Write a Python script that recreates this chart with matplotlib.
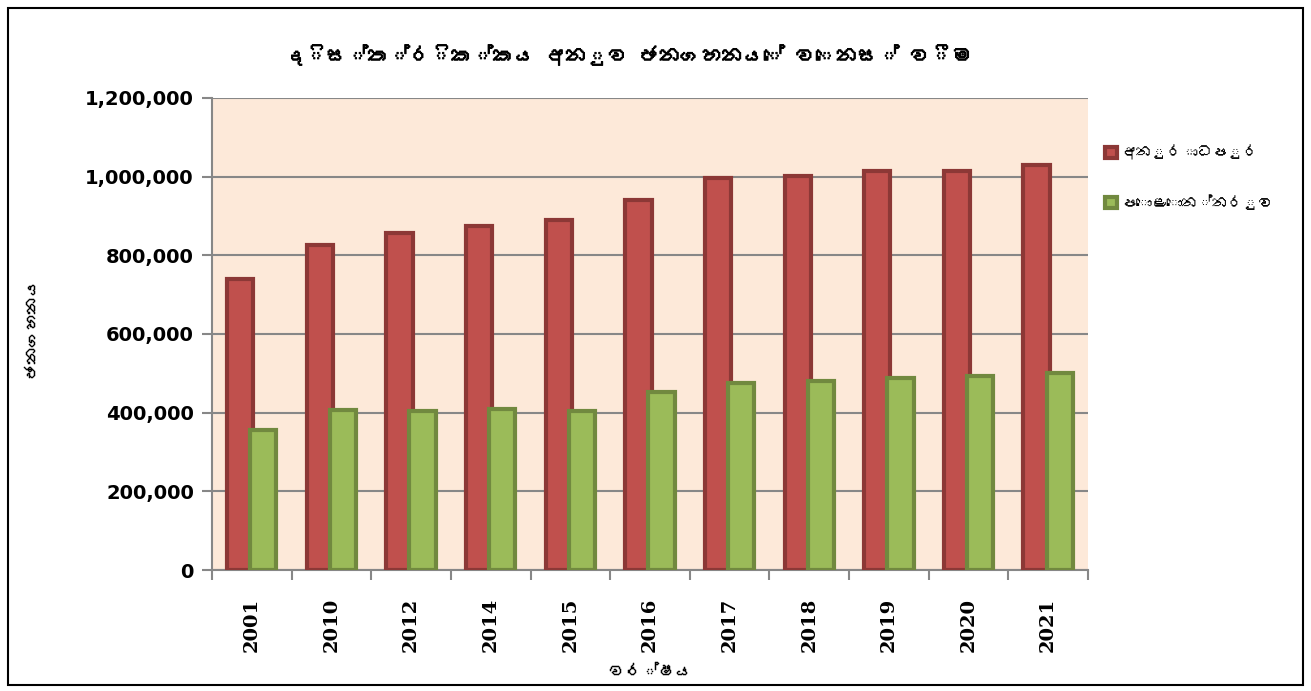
import matplotlib
matplotlib.use('Agg')
import matplotlib.pyplot as plt
import matplotlib.patheffects as pe
from matplotlib import font_manager
from matplotlib.patches import Rectangle
import numpy as np

years = ['2001', '2010', '2012', '2014', '2015', '2016', '2017', '2018', '2019', '2020', '2021']
anuradhapura = [740000, 826000, 857000, 875000, 890000, 941000, 997000, 1002000, 1015000, 1015000, 1030000]
polonnaruwa = [356000, 407000, 404000, 409000, 404000, 453000, 475000, 481000, 488000, 493000, 501000]

# zero width joiner dropped: matplotlib can't shape it and draws a box instead
title = 'දිස්ත්රික්කය අනුව ජනගහනයේ වෙනස් වීම'
series_names = ['අනුරාධපුර', 'පොළොන්නරුව']
xlabel = 'වර්ෂය'
ylabel = 'ජනගහනය'


def sinhala_families():
    # look for any installed font that has Sinhala glyphs
    found = []
    try:
        from fontTools.ttLib import TTFont
        for f in font_manager.findSystemFonts():
            try:
                t = TTFont(f, fontNumber=0, lazy=True)
                cmap = t.getBestCmap() or {}
                if 0x0D9A in cmap:
                    font_manager.fontManager.addfont(f)
                    name = font_manager.FontProperties(fname=f).get_name()
                    if name not in found:
                        found.append(name)
            except Exception:
                pass
    except Exception:
        pass
    return found


sin_family = sinhala_families() + ['DejaVu Sans']
# fake bold for the sinhala font, which has no bold face
fat = [pe.withStroke(linewidth=0.7, foreground='black')]
semi = [pe.withStroke(linewidth=0.35, foreground='black')]

fig = plt.figure(figsize=(13.11, 6.91), dpi=100)
ax = fig.add_axes([0.1617, 0.1751, 0.6682, 0.6831])
ax.set_facecolor('#FDE9D9')

x = np.arange(len(years))
w = 0.33
ax.bar(x - 0.145, anuradhapura, width=w, color='#C0504D', edgecolor='#8C3836',
       linewidth=3, label=series_names[0], zorder=3)
ax.bar(x + 0.145, polonnaruwa, width=w, color='#9BBB59', edgecolor='#71893F',
       linewidth=3, label=series_names[1], zorder=4)

ax.set_xlim(-0.5, len(years) - 0.5)
ax.set_ylim(0, 1200000)
ax.set_yticks(np.arange(0, 1200001, 200000))
ax.set_yticklabels([f'{v:,}' for v in range(0, 1200001, 200000)],
                   fontsize=14, fontweight='bold', family='DejaVu Sans')
ax.set_xticks(x)
ax.set_xticklabels(years, rotation=90, fontsize=14, fontweight='bold', family='DejaVu Serif')
ax.set_xticks(np.arange(-0.5, len(years), 1), minor=True)
ax.tick_params(axis='x', which='major', length=0, pad=20)
ax.tick_params(axis='x', which='minor', length=7, color='#878787', width=1.5)
ax.tick_params(axis='y', length=7, color='#878787', width=1.5, pad=6)

ax.grid(axis='y', color='#878787', linewidth=1.5, zorder=1)
ax.set_axisbelow(True)
for s in ['top', 'right']:
    ax.spines[s].set_visible(False)
for s in ['left', 'bottom']:
    ax.spines[s].set_color('#878787')
    ax.spines[s].set_linewidth(1.5)

fig.text(0.48, 0.92, title, ha='center', va='center', fontsize=15,
         fontweight='bold', family=sin_family, path_effects=fat)
fig.text(0.496, 0.027, xlabel, ha='center', va='center', fontsize=12,
         fontweight='bold', family=sin_family, path_effects=semi)
fig.text(0.025, 0.522, ylabel, ha='center', va='center', fontsize=12,
         fontweight='bold', family=sin_family, rotation=90, path_effects=semi)

leg = fig.legend(loc='upper left', bbox_to_anchor=(0.832, 0.81), frameon=False,
                 handlelength=0.8, handleheight=0.8, handletextpad=0.3,
                 labelspacing=2.2, prop={'family': sin_family, 'size': 11})

fig.patches.append(Rectangle((0.006, 0.009), 0.988, 0.979, transform=fig.transFigure,
                             fill=False, edgecolor='black', linewidth=1.5))

fig.savefig('out.png', dpi=100)
